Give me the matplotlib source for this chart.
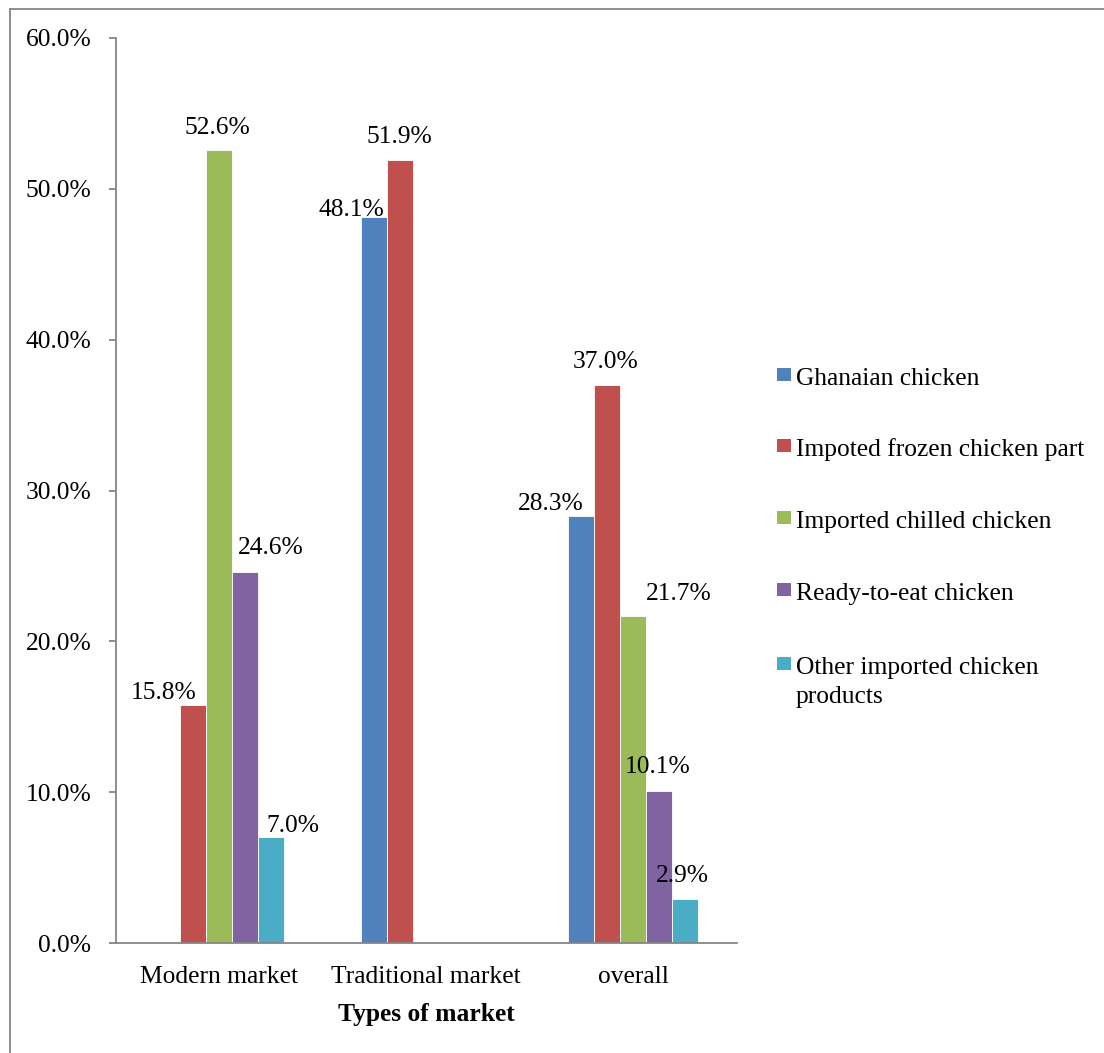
import numpy as np
import matplotlib
matplotlib.use("Agg")
import matplotlib.pyplot as plt
from matplotlib.patches import Rectangle
from matplotlib.lines import Line2D
from matplotlib.ticker import FuncFormatter, MultipleLocator

# ---------------- data ----------------
categories = ["Modern market", "Traditional market", "overall"]
series_names = ["Ghanaian chicken", "Impoted frozen chicken part",
                "Imported chilled chicken", "Ready-to-eat chicken",
                "Other imported chicken\nproducts"]
ghanaian = [0.0, 48.1, 28.3]
frozen_parts = [15.8, 51.9, 37.0]
chilled = [52.6, 0.0, 21.7]
ready_to_eat = [24.6, 0.0, 10.1]
other_products = [7.0, 0.0, 2.9]
series_values = [ghanaian, frozen_parts, chilled, ready_to_eat, other_products]
colors = ["#4F81BD", "#C0504D", "#9BBB59", "#8064A2", "#4BACC6"]
x_label = "Types of market"

# label offsets in pixels (dx, dy of baseline above bar top), per series per category
label_offsets = [
    [(0, 0), (-23, 1), (-31, 6)],
    [(-29, 6), (-1, 17), (-2, 17)],
    [(-2, 16), (0, 0), (45, 16)],
    [(26, 18), (0, 0), (-2, 18)],
    [(22, 5), (0, 0), (-3, 17)],
]

plt.rcParams["font.family"] = ["Liberation Serif", "DejaVu Serif"]
W, H = 1104, 1053
fig = plt.figure(figsize=(W / 100, H / 100), dpi=100)
fig.patch.set_facecolor("white")

ax_left, ax_right, ax_bottom, ax_top = 115.5, 737, 943, 38
ax = fig.add_axes([ax_left / W, (H - ax_bottom) / H,
                   (ax_right - ax_left) / W, (ax_bottom - ax_top) / H])

gray = "#868686"
fs = 18.4
x = np.arange(len(categories))
w = 0.1255
n = len(series_values)
for i, (vals, col) in enumerate(zip(series_values, colors)):
    pos = x + (i - (n - 1) / 2) * w
    ax.bar(pos, vals, width=w, color=col, edgecolor="white", linewidth=0.6,
           zorder=2)
    for j, v in enumerate(vals):
        if v == 0:
            continue
        dx, dy = label_offsets[i][j]
        ax.annotate(f"{v:.1f}%", xy=(pos[j], v), xytext=(dx, dy),
                    textcoords="offset pixels", ha="center", va="baseline",
                    fontsize=fs, color="black", zorder=3)

ax.set_xlim(-0.5, len(categories) - 0.5)
ax.set_ylim(0, 60)
ax.yaxis.set_major_locator(MultipleLocator(10))
ax.yaxis.set_major_formatter(FuncFormatter(lambda v, p: f"{v:.1f}%"))
ax.set_xticks(x)
ax.set_xticklabels(categories)
for s in ["top", "right"]:
    ax.spines[s].set_visible(False)
for s in ["left", "bottom"]:
    ax.spines[s].set_color(gray)
    ax.spines[s].set_linewidth(1.3)
ax.tick_params(axis="y", direction="out", length=5, width=1.3, color=gray,
               pad=12.5, labelsize=fs)
ax.tick_params(axis="x", length=0, pad=16.5, labelsize=fs)
ax.set_xlabel(x_label, fontsize=fs, fontweight="bold", labelpad=10.7)

# legend drawn manually (marker aligned to first text line)
leg_baselines = [385, 456, 528, 600, 674]
line_gap = 29
for name, col, yb in zip(series_names, colors, leg_baselines):
    fig.patches.append(Rectangle((777 / W, (H - yb + 4) / H), 14 / W, 13 / H,
                                 transform=fig.transFigure, facecolor=col,
                                 edgecolor="none"))
    extra = name.count("\n") * line_gap
    fig.text(796 / W, (H - yb - extra) / H, name, fontsize=fs, ha="left",
             va="baseline", linespacing=1.4)

# chart-area border (left and top edges visible)
fig.add_artist(Line2D([10 / W, 10 / W], [0, (H - 9) / H], color=gray, lw=1.3,
                      transform=fig.transFigure))
fig.add_artist(Line2D([10 / W, 1.0], [(H - 9) / H, (H - 9) / H], color=gray,
                      lw=1.3, transform=fig.transFigure))

fig.savefig("out.png", dpi=100, facecolor="white")
